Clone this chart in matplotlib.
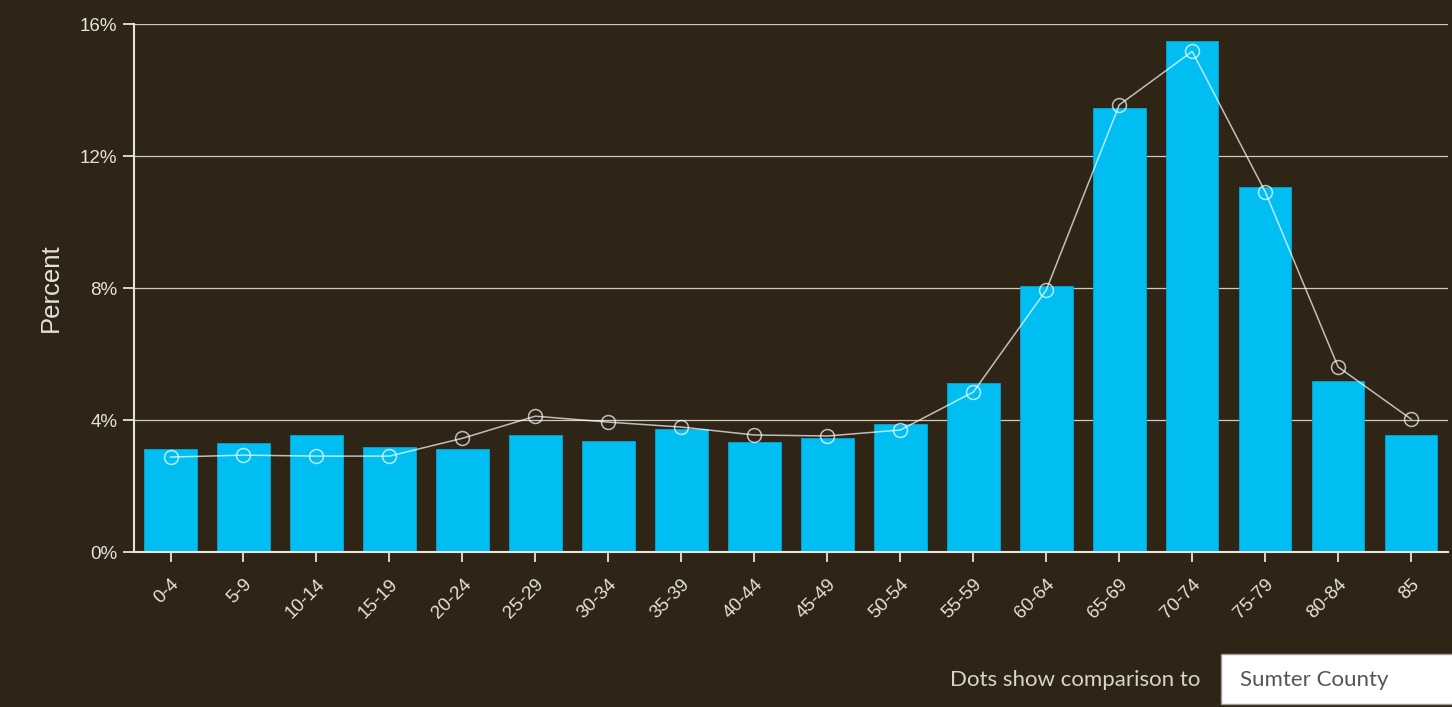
import matplotlib
matplotlib.use('Agg')
from matplotlib import pyplot as plt
from matplotlib.patches import Rectangle

ages = ['0-4', '5-9', '10-14', '15-19', '20-24', '25-29', '30-34', '35-39', '40-44',
        '45-49', '50-54', '55-59', '60-64', '65-69', '70-74', '75-79', '80-84', '85']
area_pct = [3.12, 3.30, 3.55, 3.20, 3.12, 3.55, 3.36, 3.73, 3.33,
            3.45, 3.88, 5.12, 8.06, 13.45, 15.48, 11.07, 5.18, 3.55]
county_pct = [2.88, 2.94, 2.91, 2.91, 3.45, 4.12, 3.94, 3.79, 3.55,
              3.52, 3.70, 4.85, 7.94, 13.55, 15.17, 10.92, 5.61, 4.03]
yticks = [0, 4, 8, 12, 16]

bg = '#2e2516'
fg = '#e6e3dc'

fig = plt.figure(figsize=(14.52, 7.07), dpi=100, facecolor=bg)
ax = fig.add_axes([0.0923, 0.219, 0.9047, 0.747], facecolor=bg)

x = range(len(ages))
ax.bar(x, area_pct, width=0.72, color='#00bef2', edgecolor='#0aa6d2', linewidth=0.6, zorder=2)
ax.plot(x, county_pct, color='white', alpha=0.7, linewidth=1.1, marker='o',
        markersize=10, markerfacecolor='none', markeredgecolor='white', markeredgewidth=1.1, zorder=3)

ax.set_xlim(-0.5, 17.5)
ax.set_ylim(0, 16)
ax.set_yticks(yticks)
ax.set_yticklabels([f'{v}%' for v in yticks], family='Liberation Sans', fontsize=13.5, color=fg)
ax.set_xticks(list(x))
ax.set_xticklabels(ages, rotation=45, ha='right', rotation_mode='anchor',
                   family='Liberation Sans', fontsize=13.5, color=fg)
ax.tick_params(axis='x', length=7, width=1.3, color=fg, pad=10)
ax.tick_params(axis='y', length=8, width=1.3, color=fg, pad=4)
ax.grid(axis='y', color='#cfcbc3', linewidth=0.9, zorder=1)
ax.set_axisbelow(True)

for s in ['top', 'right']:
    ax.spines[s].set_visible(False)
for s in ['left', 'bottom']:
    ax.spines[s].set_color(fg)
    ax.spines[s].set_linewidth(1.5)
    ax.spines[s].set_zorder(4)

ax.set_ylabel('Percent', family='Liberation Sans', fontsize=18.5, color=fg, labelpad=12)

fig.text(1200 / 1452, 1 - 680 / 707, 'Dots show comparison to', ha='right', va='center',
         family='Lato', fontsize=16, color='#d8d4cc')
fig.patches.append(Rectangle((1221 / 1452, 1 - 704 / 707), 240 / 1452, 50 / 707,
                             transform=fig.transFigure, facecolor='white',
                             edgecolor='#9a9a9a', linewidth=1))
fig.text(1240 / 1452, 1 - 680 / 707, 'Sumter County', ha='left', va='center',
         family='Lato', fontsize=16, color='#555555')

fig.savefig('out.png', dpi=100, facecolor=bg)
